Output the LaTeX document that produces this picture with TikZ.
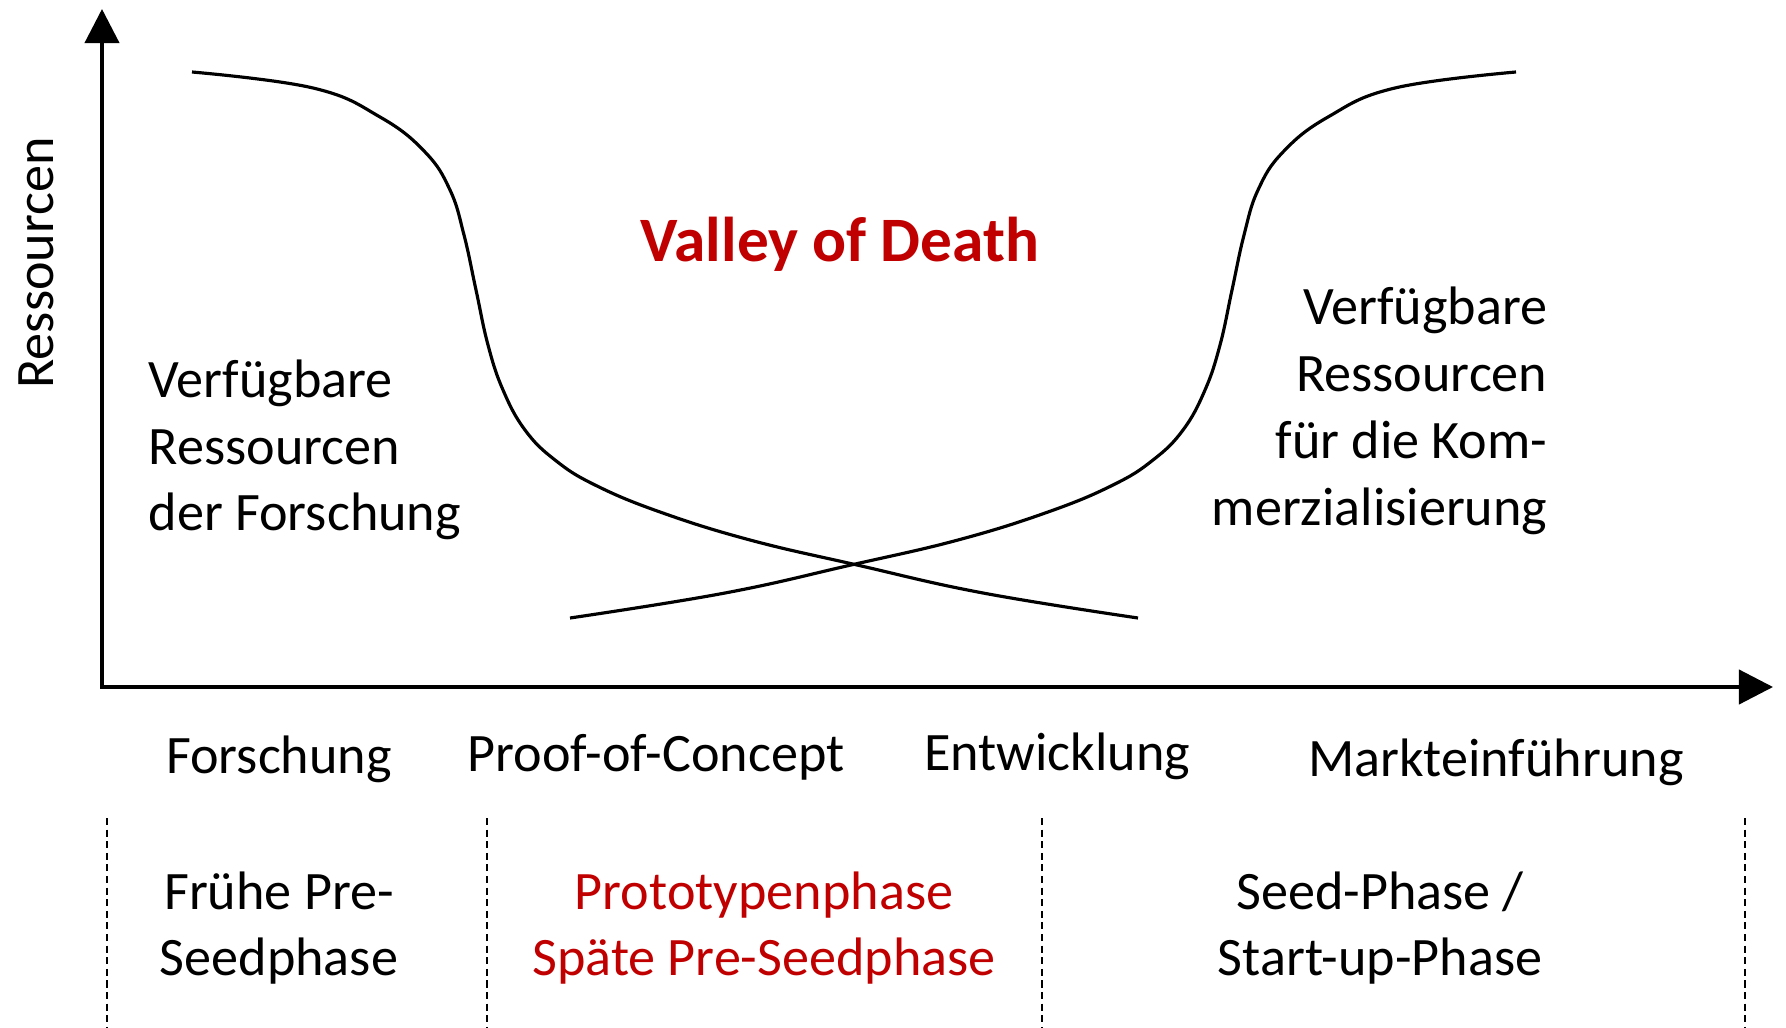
\documentclass[tikz,border=0pt]{standalone}
\usepackage{fontspec}
\setmainfont{Carlito}
\usetikzlibrary{arrows.meta}
\definecolor{deathred}{HTML}{C00000}
\begin{document}
\begin{tikzpicture}[x=0.01cm, y=-0.01cm,
    txt/.style={inner sep=0pt, font=\fontsize{15.4}{19}\selectfont},
    redtxt/.style={txt, text=deathred},
    axis/.style={line width=1.15pt,
      {Triangle[length=9.7pt,width=9.7pt]}-{Triangle[length=9.7pt,width=9.7pt]}},
    curve/.style={line width=0.9pt},
    sepline/.style={line width=0.45pt, dash pattern=on 2pt off 1.3pt}]
  \useasboundingbox (0,0) rectangle (1786,1028);
  % axes
  \coordinate (origin) at (102,687);
  \coordinate (ytip) at (102,9);
  \coordinate (xtip) at (1773,687);
  \draw[axis] (ytip) -- (origin) -- (xtip);
  \node[txt, rotate=90] (ylabel) at (36,263) {Ressourcen};
  % resource curves
  \draw[curve] plot[smooth, tension=0.7] coordinates {(192,72) (313,88) (380,117)
    (425,152) (450,190) (464,235) (476,290) (488,345) (503,390) (525,430)
    (555,460) (595,485) (660,512) (750,540) (857,565) (983,593) (1138,618)};
  \draw[curve] plot[smooth, tension=0.7] coordinates {(570,618) (725,593) (851,565)
    (958,540) (1048,512) (1113,485) (1153,460) (1183,430) (1205,390) (1220,345)
    (1232,290) (1244,235) (1258,190) (1283,152) (1328,117) (1395,88) (1516,72)};
  \node[txt, text=deathred, font=\fontsize{18}{22}\selectfont\bfseries, anchor=base]
    (vod) at (840,262) {Valley of Death};
  \node[txt, align=left, anchor=west] (resleft) at (148,450)
    {Verfügbare\\Ressourcen\\der Forschung};
  \node[txt, align=right, anchor=east] (resright) at (1548,411)
    {Verfügbare\\Ressourcen\\für die Kom-\\merzialisierung};
  % stages
  \node[txt, anchor=base] (forschung) at (279,773) {Forschung};
  \node[txt, anchor=base] (poc) at (656,771) {Proof-of-Concept};
  \node[txt, anchor=base] (entw) at (1057,770) {Entwicklung};
  \node[txt, anchor=base] (markt) at (1496,776) {Markteinführung};
  % phases
  \foreach \x in {107,487,1042,1745}
    \draw[sepline] (\x,818) -- (\x,1028);
  \node[txt, align=center] (fruehe) at (279,928) {Frühe Pre-\\Seedphase};
  \node[redtxt, align=center] (proto) at (764,928) {Prototypenphase\\Späte Pre-Seedphase};
  \node[txt, align=center] (seed) at (1380,928) {Seed-Phase /\\Start-up-Phase};
\end{tikzpicture}
\end{document}
